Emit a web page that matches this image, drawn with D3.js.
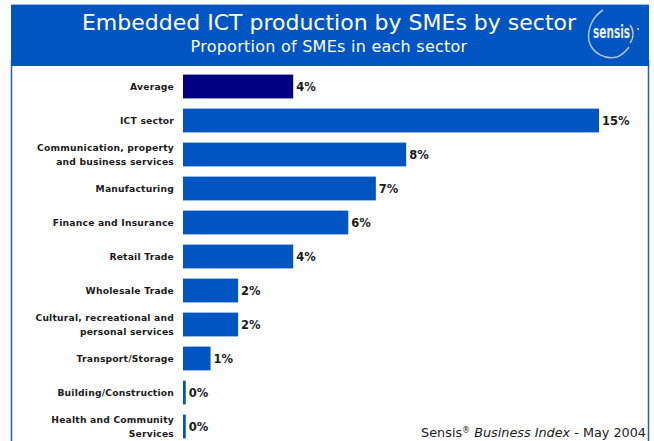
<!DOCTYPE html>
<html>
<head>
<meta charset="utf-8">
<script src="https://cdn.jsdelivr.net/npm/d3@7"></script>
<style>
  html, body { margin: 0; padding: 0; background: #fff; }
  svg { display: block; }
</style>
</head>
<body>
<svg id="chart" width="654" height="441"></svg>
<script>
// Sector names (multi-line labels split with "\n")
const sectors = [
  "Average",
  "ICT sector",
  "Communication, property\nand business services",
  "Manufacturing",
  "Finance and Insurance",
  "Retail Trade",
  "Wholesale Trade",
  "Cultural, recreational and\npersonal services",
  "Transport/Storage",
  "Building/Construction",
  "Health and Community\nServices"
];
// Share of SMEs producing embedded ICT, per cent
const shares = [4.0, 15.1, 8.1, 7.0, 6.0, 4.0, 2.0, 2.0, 1.0, 0.1, 0.1];

const title = "Embedded ICT production by SMEs by sector";
const subtitle = "Proportion of SMEs in each sector";

const svg = d3.select("#chart");
const BLUE = "#0055c2";
const NAVY = "#000080";
const FONT = "DejaVu Sans, Verdana, sans-serif";

// Frame around the plotting area
svg.append("line").attr("x1", 11.5).attr("x2", 11.5).attr("y1", 60).attr("y2", 441)
  .attr("stroke", "#1f5fc8").attr("stroke-width", 1.5);
svg.append("line").attr("x1", 648.5).attr("x2", 648.5).attr("y1", 60).attr("y2", 441)
  .attr("stroke", "#1f5fc8").attr("stroke-width", 1.5);

// Header band
svg.append("rect").attr("x", 11).attr("y", 4).attr("width", 638).attr("height", 62)
  .attr("fill", BLUE);
svg.append("line").attr("x1", 11).attr("x2", 649).attr("y1", 4.5).attr("y2", 4.5)
  .attr("stroke", "#9fb8e6").attr("stroke-width", 1);

svg.append("text").attr("x", 329).attr("y", 30)
  .attr("text-anchor", "middle")
  .attr("font-family", FONT)
  .attr("font-size", 22).attr("fill", "#fff")
  .text(title);
svg.append("text").attr("x", 329).attr("y", 51.5)
  .attr("text-anchor", "middle")
  .attr("font-family", FONT)
  .attr("font-size", 16).attr("letter-spacing", 0.25).attr("fill", "#fff")
  .text(subtitle);

// Logo: swoosh ring around the word mark
const logo = svg.append("g");
logo.append("path")
  .attr("d", "M603,10 C592,17 587,30 589,41 C592,53 605,60 617,57 C622,55 626,51 629,47")
  .attr("fill", "none").attr("stroke", "#d6e2f7").attr("stroke-width", 1.5).attr("opacity", 0.8);
logo.append("path")
  .attr("d", "M630,25 C634,30 634,38 630,43")
  .attr("fill", "none").attr("stroke", "#d6e2f7").attr("stroke-width", 1.3).attr("opacity", 0.85);
logo.append("text").attr("x", 593).attr("y", 38)
  .attr("font-family", "DejaVu Sans Condensed, DejaVu Sans, sans-serif")
  .attr("font-weight", "bold").attr("font-size", 17)
  .attr("textLength", 37).attr("lengthAdjust", "spacingAndGlyphs")
  .attr("fill", "#e8eefa").text("sensis");
logo.append("circle").attr("cx", 638).attr("cy", 29).attr("r", 1)
  .attr("fill", "#d6e2f7");

// Scales
const x = d3.scaleLinear().domain([0, 15.1]).range([183, 599]);
const y = d3.scaleBand().domain(sectors).range([69.5, 443.5])
  .paddingInner(0.3).paddingOuter(0.15);

const rows = svg.append("g").selectAll("g")
  .data(sectors.map((s, i) => ({ name: s, value: shares[i], i })))
  .join("g");

rows.append("rect")
  .attr("x", x(0))
  .attr("y", d => y(d.name))
  .attr("width", d => x(d.value) - x(0))
  .attr("height", y.bandwidth())
  .attr("fill", d => d.i === 0 ? NAVY : BLUE);

// Value labels
const fmt = v => d3.format(".0f")(v) + "%";
rows.append("text")
  .attr("x", d => x(d.value) + 3)
  .attr("y", d => y(d.name) + y.bandwidth() / 2)
  .attr("dy", "0.36em")
  .attr("font-family", FONT)
  .attr("font-weight", "bold").attr("font-size", 11.5)
  .attr("fill", "#1a1a1a")
  .text(d => fmt(d.value));

// Category labels
rows.append("text")
  .attr("text-anchor", "end")
  .attr("font-family", FONT)
  .attr("font-weight", "bold").attr("font-size", 9.2).attr("letter-spacing", 0.2)
  .attr("fill", "#1a1a1a")
  .each(function (d) {
    const lines = d.name.split("\n");
    const cy = y(d.name) + y.bandwidth() / 2;
    const t = d3.select(this);
    lines.forEach((ln, k) => {
      t.append("tspan")
        .attr("x", 174)
        .attr("y", cy + (k - (lines.length - 1) / 2) * 14)
        .attr("dy", "0.36em")
        .text(ln);
    });
  });

// Source note
const src = svg.append("text").attr("x", 646).attr("y", 437)
  .attr("text-anchor", "end")
  .attr("font-family", FONT)
  .attr("font-size", 12.8).attr("fill", "#1a1a1a");
src.append("tspan").text("Sensis");
src.append("tspan").attr("font-size", 8).attr("dy", -4).text("®");
src.append("tspan").attr("dy", 4).text(" ");
src.append("tspan").attr("font-style", "italic").text("Business Index");
src.append("tspan").text(" - May 2004");
</script>
</body>
</html>
